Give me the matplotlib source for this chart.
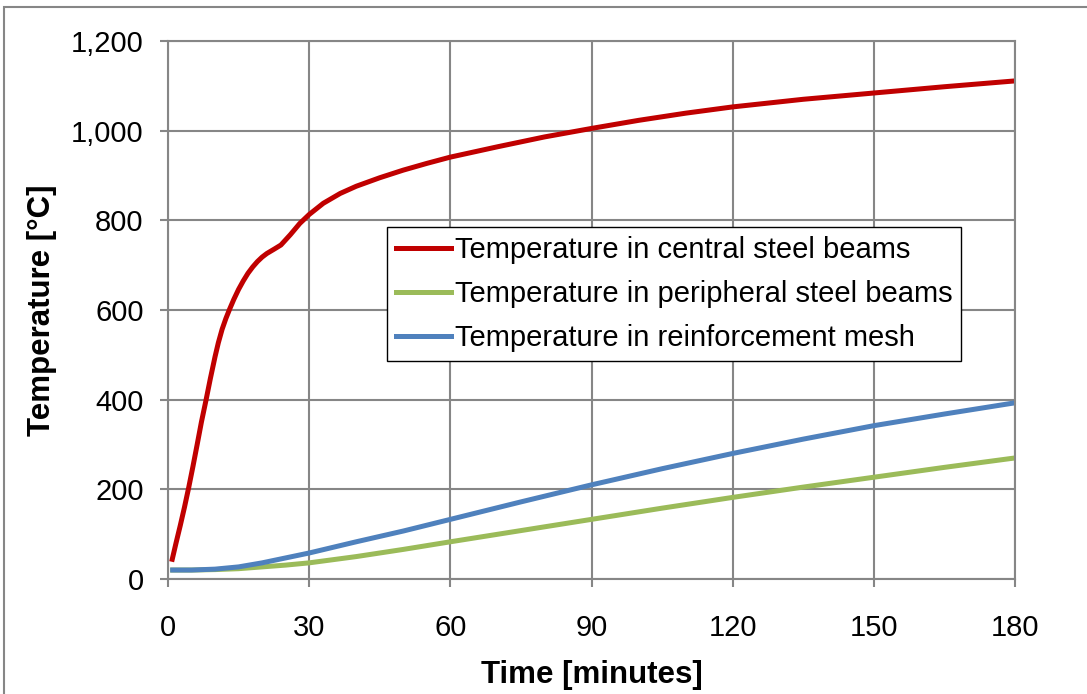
import matplotlib
matplotlib.use("Agg")
import matplotlib.pyplot as plt
from matplotlib.patches import Rectangle

# Data
central_t = [0.9, 1.7, 2.6, 3.5, 4.4, 5.3, 6.2, 7.1, 8.1, 9.0, 10.0, 10.7, 11.5, 12.3, 13.1,
             14.0, 15.0, 16.0, 17.0, 18.0, 19.0, 20.0, 21.0, 22.6, 24.0,
             26.0, 28.0, 30.0, 33.0, 36.6, 40.0, 45, 50, 55, 60, 70, 80, 90, 100, 110, 120,
             135, 150, 165, 180]
central_T = [44, 80, 119, 160, 204, 251, 300, 350, 400, 447, 496, 527, 557, 581, 602,
             624, 646, 665, 682, 696, 708, 718, 726, 736, 745,
             768, 793, 813, 838, 860, 876, 895, 912, 927, 941, 964, 986, 1005, 1023, 1039, 1053,
             1070, 1084, 1098, 1111]

periph_t = [1, 5, 10, 15, 20, 25, 30, 40, 50, 60, 75, 90, 105, 120, 135, 150, 165, 180]
periph_T = [20, 20, 21, 23, 27, 31, 36, 50, 66, 83, 108, 133, 158, 182, 205, 227, 249, 270]

mesh_t = [1, 5, 10, 15, 20, 25, 30, 40, 50, 60, 75, 90, 105, 120, 135, 150, 165, 180]
mesh_T = [20, 20, 22, 27, 36, 47, 58, 83, 107, 133, 172, 210, 246, 280, 312, 342, 368, 393]

x_ticks = [0, 30, 60, 90, 120, 150, 180]
y_ticks = [0, 200, 400, 600, 800, 1000, 1200]
y_tick_labels = ["0", "200", "400", "600", "800", "1,000", "1,200"]

labels = ["Temperature in central steel beams",
          "Temperature in peripheral steel beams",
          "Temperature in reinforcement mesh"]

plt.rcParams['font.family'] = ['Liberation Sans', 'DejaVu Sans']

fig = plt.figure(figsize=(10.87, 6.94), dpi=100)
ax = fig.add_axes([168/1087, 1-579/694, (1015-168)/1087, (579-41)/694])

grey = "#868686"
kw = dict(lw=3.6, solid_joinstyle="round")
ax.plot(central_t, central_T, color="#C00000", label=labels[0], **kw)
ax.plot(periph_t, periph_T, color="#9BBB59", label=labels[1], **kw)
ax.plot(mesh_t, mesh_T, color="#4F81BD", label=labels[2], **kw)
ax.set_xlim(0, 180)
ax.set_ylim(0, 1200)
ax.set_xticks(x_ticks)
ax.set_yticks(y_ticks)
ax.set_yticklabels(y_tick_labels)
ax.grid(True, color=grey, lw=1.5)
ax.set_axisbelow(True)
for s in ax.spines.values():
    s.set_color(grey)
    s.set_linewidth(1.5)
ax.tick_params(axis='both', direction='out', length=6, width=1.5, color=grey,
               labelsize=21)
ax.tick_params(axis='x', pad=19.5)
ax.tick_params(axis='y', pad=11.5)
ax.set_xlabel("Time [minutes]", fontsize=22.5, fontweight="bold", labelpad=13)
ax.set_ylabel("Temperature [°C]", fontsize=22.5, fontweight="bold", labelpad=10)

leg = ax.legend(loc="upper left", bbox_to_anchor=(0.2586, 0.654), fontsize=21,
                frameon=True, fancybox=False, handlelength=1.9, handletextpad=0.12,
                labelspacing=0.55, borderpad=0.3, borderaxespad=0)
leg.get_frame().set_edgecolor("black")
leg.get_frame().set_linewidth(1.0)
leg.get_frame().set_alpha(1)

fig.patches.append(Rectangle((4/1087, -0.05), 1.1, 1-7/694+0.05, transform=fig.transFigure,
                             fill=False, edgecolor=grey, lw=1.5))

fig.savefig("out.png", dpi=100)
